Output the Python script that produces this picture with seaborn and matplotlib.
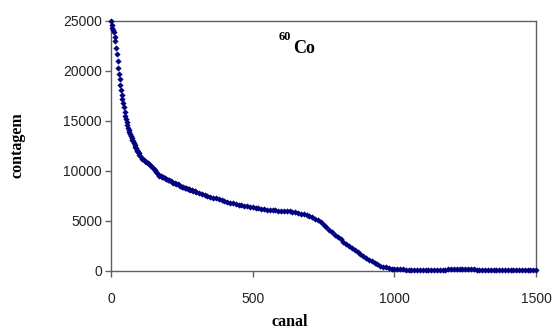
import matplotlib
matplotlib.use("Agg")
import matplotlib.pyplot as plt
import seaborn as sns
import pandas as pd

canal = [0, 3, 5, 8, 10, 13, 15, 18, 20, 23, 25, 28, 30, 33, 35, 38, 40, 43, 45, 48,
         50, 53, 55, 58, 60, 63, 65, 68, 70, 73, 75, 78, 80, 83, 85, 88, 90, 93, 95, 98,
         100, 105, 110, 115, 120, 125, 130, 135, 140, 145, 150, 155, 160, 165, 170, 175,
         180, 185, 190, 195, 200, 205, 210, 215, 220, 225, 230, 235, 240, 245, 250, 255,
         260, 265, 270, 275, 280, 285, 290, 295, 300,
         310, 320, 330, 340, 350, 360, 370, 380, 390, 400, 410, 420, 430, 440, 450,
         460, 470, 480, 490, 500, 510, 520, 530, 540, 550, 560, 570, 580, 590, 600,
         610, 620, 630, 640, 650, 660, 670, 680, 690, 700, 710, 720, 730, 740, 750,
         760, 770, 780, 790, 800, 810, 820, 830, 840, 850, 860, 870, 880, 890, 900,
         910, 920, 930, 940, 950, 960, 970, 980, 990, 1000, 1010, 1020, 1030, 1040,
         1050, 1060, 1070, 1080, 1090, 1100, 1110, 1120, 1130, 1140, 1150, 1160, 1170,
         1180, 1190, 1200, 1210, 1220, 1230, 1240, 1250, 1260, 1270, 1280, 1290, 1300,
         1310, 1320, 1330, 1340, 1350, 1360, 1370, 1380, 1390, 1400, 1410, 1420, 1430,
         1440, 1450, 1460, 1470, 1480, 1490, 1500]
contagem = [25000, 24600, 24300, 24100, 23900, 23400, 23000, 22300, 21700, 21000, 20300, 19700, 19200, 18600, 18100, 17600, 17200, 16800, 16400, 15900,
            15500, 15200, 14900, 14600, 14300, 14100, 13900, 13700, 13500, 13300, 13100, 12950, 12800, 12600, 12400, 12250, 12100, 12000, 11900, 11750,
            11600, 11400, 11200, 11100, 11000, 10900, 10800, 10650, 10500, 10350, 10200, 10050, 9900, 9700, 9500, 9450,
            9400, 9350, 9300, 9200, 9100, 9050, 9000, 8900, 8800, 8750, 8700, 8650, 8600, 8500, 8400, 8350,
            8300, 8250, 8200, 8150, 8100, 8050, 8000, 7950, 7900,
            7800, 7700, 7600, 7500, 7400, 7300, 7250, 7150, 7050, 7000, 6900, 6800, 6750, 6700, 6600,
            6550, 6500, 6450, 6400, 6350, 6300, 6250, 6200, 6150, 6100, 6100, 6050, 6050, 6000, 6000,
            5980, 5950, 5950, 5900, 5850, 5800, 5700, 5650, 5550, 5450, 5350, 5200, 5050, 4850, 4600,
            4350, 4100, 3850, 3600, 3350, 3150, 2900, 2650, 2450, 2250, 2050, 1850, 1650, 1450, 1250,
            1100, 950, 800, 650, 520, 420, 330, 270, 220, 180, 160, 150, 130, 120,
            120, 110, 110, 110, 100, 100, 100, 100, 110, 100, 100, 110, 100,
            110, 130, 150, 170, 160, 190, 180, 170, 190, 150, 130, 120, 110,
            100, 100, 100, 100, 90, 90, 90, 90, 90, 90, 90, 90, 90,
            90, 90, 90, 90, 90, 90, 90]

df = pd.DataFrame({"canal": canal, "contagem": contagem})

fig = plt.figure(figsize=(5.58, 3.31), dpi=100)
ax = fig.add_axes([111/558, 1-270.7/331, 425/558, 250/331])

sns.scatterplot(data=df, x="canal", y="contagem", ax=ax, marker="D", s=8,
                color="#000080", edgecolor="#000080", linewidth=0.3, legend=False,
                clip_on=False, zorder=3)

ax.set_xlim(0, 1500)
ax.set_ylim(0, 25000)
ax.set_xticks([0, 500, 1000, 1500])
ax.set_yticks([0, 5000, 10000, 15000, 20000, 25000])
ax.set_xlabel("")
ax.set_ylabel("")
for s in ax.spines.values():
    s.set_color("#606060")
    s.set_linewidth(1.0)
ax.tick_params(axis="both", direction="out", length=4.5, width=1, color="#606060",
               labelsize=10, labelcolor="#222222")
ax.tick_params(axis="x", pad=11)
ax.tick_params(axis="y", pad=2)
for lab in ax.get_xticklabels() + ax.get_yticklabels():
    lab.set_family("Liberation Sans")

fig.text(290/558, 1-322/331, "canal", ha="center", va="center",
         family="Liberation Serif", fontweight="bold", fontsize=11.5)
fig.text(17.5/558, 1-145/331, "contagem", ha="center", va="center", rotation=90,
         family="Liberation Serif", fontweight="bold", fontsize=11.5)
fig.text(293/558, 1-53/331, "Co", ha="left", va="baseline",
         family="Liberation Serif", fontweight="bold", fontsize=13)
fig.text(291/558, 1-40/331, "60", ha="right", va="baseline",
         family="Liberation Serif", fontweight="bold", fontsize=9)

fig.savefig("out.png", dpi=100)
